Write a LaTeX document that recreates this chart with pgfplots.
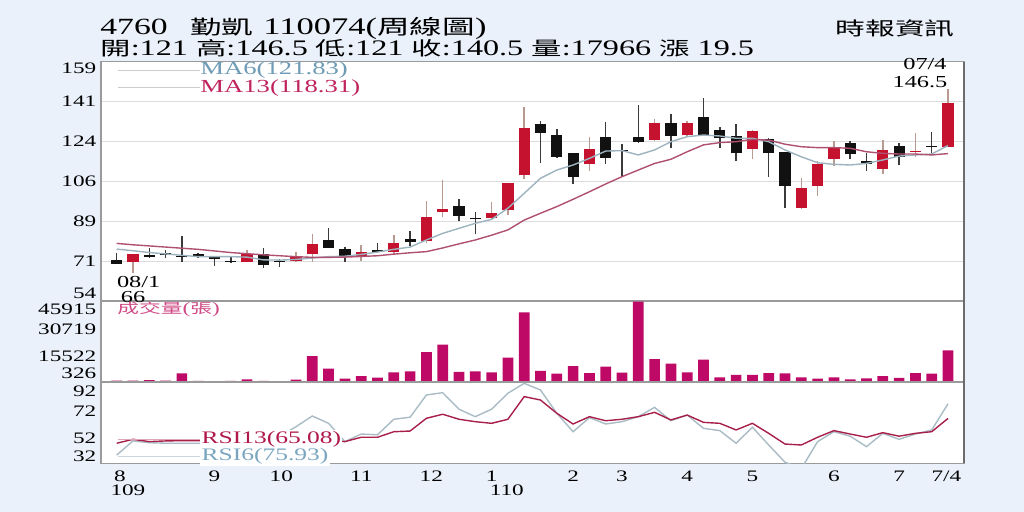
\documentclass[border=0pt]{standalone}
\usepackage{fontspec}
\setmainfont{Liberation Serif}[FakeStretch=1.45]
\newfontfamily\cjk{Noto Sans CJK TC}[FakeStretch=1.6]
\usepackage{pgfplots}
\usepackage{pgfplotstable}
\pgfplotsset{compat=1.18}
\definecolor{bg}{HTML}{EAF1FA}
\definecolor{candr}{HTML}{C4122F}
\definecolor{candk}{HTML}{111111}
\definecolor{wickr}{HTML}{B89A90}
\definecolor{wickk}{HTML}{3A3A3A}
\definecolor{volc}{HTML}{BE0A66}
\definecolor{masix}{HTML}{9DB4C0}
\definecolor{mathr}{HTML}{B05070}
\definecolor{masixt}{HTML}{6E9BB5}
\definecolor{mathrt}{HTML}{C0245E}
\definecolor{rthr}{HTML}{A8204A}
\definecolor{rsix}{HTML}{A9BCC6}
\definecolor{rthrt}{HTML}{B0184C}
\definecolor{rsixt}{HTML}{7AA6C0}
\definecolor{volt}{HTML}{D04A86}
\definecolor{gridc}{HTML}{DCDCDC}
\definecolor{axc}{HTML}{9A9A9A}

\pgfplotstableread{
i O H L C
1 70.7 74.5 66 74.2
8 70.9 76.1 70.7 74.4
11 71.4 75.3 70.7 73.5
12 74.2 83 71 78.9
15 73.6 78.2 71.3 75.1
17 75.4 82.8 73.8 79.3
19 80.1 97.6 79 90.7
20 92.9 106.7 90.4 94.2
23 90 97.2 89.4 92.4
24 93.6 105.5 91.6 105.3
25 108.9 138.8 107 129.4
29 113.6 125.7 110.7 120.3
33 124.2 133.6 124 131.8
35 126.3 132.5 125.5 131.8
39 120.2 128.5 115.8 128.2
42 94.4 107.8 94.2 103.4
43 104.1 115 99.9 113.6
44 115.9 124 113 121.3
47 111.6 124.2 109.4 119.9
49 119.2 127.2 116.7 119.6
51 121 146.5 121 140.5
}\redT

\pgfplotstableread{
i O H L C
0 71.7 75 69.8 70.0
2 73.8 77 72.8 73.2
3 74.7 76 72.5 73.8
4 73.5 82.2 70.7 73.1
5 74.4 74.8 72.7 73.3
6 72.9 73.2 69.3 72.3
7 71.3 73.7 70.5 70.9
9 74.5 76.8 68.3 69.7
10 71.3 72 68.8 70.8
13 80.4 85.6 76.8 77.1
14 76.4 77.5 71 72.9
16 76.1 79 75 75.2
18 80.9 84.6 77.8 79.8
21 95.5 98.4 88.7 91.1
22 89.9 92.6 83.1 89.5
26 131.2 132.7 114 127.2
27 126.4 128.9 116.5 116.9
28 118.4 118.5 105 107.9
30 125.4 132 113.6 116.5
31 120 122.3 108 119.5
32 125.7 139.6 123 123.2
34 131.8 135.5 120.9 126
36 134.4 142.5 126 126.1
37 128.6 129.8 120.9 125
38 126 131.2 115 118.4
40 124.5 125 108.2 118.4
41 118.9 119.2 94.6 104.1
45 122.8 124 115.8 118.1
46 115.2 118.4 110.8 113.6
48 121.8 122.8 113.3 116.7
50 121.7 127.9 118.4 121.3
}\blkT

\pgfplotstableread{
i m6 m13 vol r13 r6
0 76.5 79.0 800 46.8 38.1
1 75.8 78.4 800 49.7 48.5
2 75.0 77.9 1000 48.0 47.2
3 74.4 77.4 800 48.5 46.8
4 73.8 76.9 4900 48.7 46.8
5 73.2 76.4 600 48.7 46.8
6 73.2 75.7 200 48.7 46.8
7 73.2 75.0 600 48.7 46.8
8 73.0 74.5 1500 48.7 46.8
9 71.8 74.0 600 48.5 47.0
10 71.7 73.6 200 47.5 51.8
11 72.0 73.2 1300 48.5 59.0
12 72.6 72.9 14700 49.0 66.9
13 73.2 72.9 7600 49.0 61.5
14 73.4 73.0 1900 48.0 48.0
15 74.2 73.3 3400 51.2 53.6
16 75.2 73.6 2500 51.2 53.0
17 76.4 74.3 5500 55.3 64.5
18 77.4 74.9 6100 55.8 66.0
19 80.5 75.4 17000 65.2 82.4
20 83.4 77.0 21200 68.2 84.1
21 85.6 78.8 5700 64.5 71.9
22 87.8 80.5 6100 62.7 66.4
23 89.5 82.6 5500 61.5 71.9
24 94.4 84.9 13800 64.5 83.7
25 100.9 89.2 39600 81.2 91.0
26 107.5 92.2 6300 78.7 86.1
27 111.1 95.1 4700 68.9 68.9
28 113.3 98.3 9100 61.0 55.3
29 116.2 101.6 5100 66.4 65.7
30 119.4 105.0 8700 63.4 61.0
31 119.6 108.2 5300 64.5 62.7
32 117.7 111.1 45700 66.4 66.4
33 119.9 114.0 13000 69.6 73.3
34 123.5 115.8 10400 64.0 63.4
35 125.7 119.1 5500 67.6 67.6
36 126.4 122.1 12700 62.2 57.8
37 126.0 123.1 2650 61.5 56.1
38 125.0 123.5 4000 56.6 46.8
39 125.0 124.5 4000 61.5 58.6
40 123.5 124.2 5100 54.1 45.5
41 119.9 122.4 4900 46.2 32.8
42 116.9 121.3 2650 45.5 28.0
43 114.3 120.9 1900 51.2 48.0
44 113.6 120.9 2650 56.1 55.3
45 113.3 120.6 1500 53.6 52.0
46 114.0 119.1 2100 51.2 44.3
47 115.5 118.4 3400 54.6 54.1
48 117.2 118.1 2300 52.0 49.7
49 117.7 118.1 5100 54.1 53.6
50 118.1 117.7 4700 55.3 56.6
51 121.8 118.3 17966 65.1 75.9
}\seriesT

\pgfplotsset{
  common/.style={
    scale only axis, width=431.65pt, xmin=-0.963, xmax=52.0,
    anchor=south west,
    axis background/.style={fill=white},
    axis line style={draw=axc, line width=0.6pt},
    major tick length=0pt, minor tick num=0,
    xtick=\empty,
    scaled y ticks=false,
    /pgf/number format/assume math mode=true,
    yticklabel style={font=\fontsize{8}{8}\selectfont, inner sep=0pt, xshift=-2.2pt},
  },
}

\begin{document}
\begin{tikzpicture}
\fill[bg] (0,0) rectangle (512pt,256pt);

% ---------- price panel ----------
\begin{axis}[common, at={(50.5pt,105.5pt)}, height=119.65pt,
  ymin=53.81, ymax=158.5,
  ytick={71,88.5,106,123.5,141}, yticklabels={71,89,106,124,141},
  ymajorgrids, grid style={draw=gridc, line width=0.7pt},
  extra y ticks={57.0,155.8}, extra y tick labels={54,159},
  extra y tick style={grid=none},
]
\addplot[draw=none, forget plot, error bars/.cd, y dir=plus, y explicit, error mark=none,
  error bar style={draw=wickr, line width=0.75pt, solid}]
  table[x=i, y=L, y error plus expr=\thisrow{H}-\thisrow{L}] {\redT};
\addplot[draw=none, forget plot, error bars/.cd, y dir=plus, y explicit, error mark=none,
  error bar style={draw=wickk, line width=0.75pt, solid}]
  table[x=i, y=L, y error plus expr=\thisrow{H}-\thisrow{L}] {\blkT};
\addplot[draw=none, forget plot, error bars/.cd, y dir=plus, y explicit, error mark=none,
  error bar style={draw=candr, line width=5.6pt, solid}]
  table[x=i, y=O, y error plus expr=\thisrow{C}-\thisrow{O}] {\redT};
\addplot[draw=none, forget plot, error bars/.cd, y dir=plus, y explicit, error mark=none,
  error bar style={draw=candk, line width=5.6pt, solid}]
  table[x=i, y=C, y error plus expr=\thisrow{O}-\thisrow{C}] {\blkT};
\addplot[masix, line width=0.7pt] table[x=i, y=m6] {\seriesT};
\addplot[mathr, line width=0.7pt] table[x=i, y=m13] {\seriesT};
\end{axis}

% ---------- volume panel ----------
\begin{axis}[common, at={(50.5pt,65pt)}, height=40.5pt,
  ymin=0, ymax=46100,
  ytick={5122,14798,30164,41547}, yticklabels={326,15522,30719,45915},
]
\addplot[ybar, bar width=5.35pt, bar shift=0pt, fill=volc, draw=none] table[x=i, y=vol] {\seriesT};
\end{axis}

% ---------- RSI panel ----------
\begin{axis}[common, at={(50.5pt,24.35pt)}, height=40.65pt,
  ymin=32, ymax=92,
  ytick={36.9,50.7,70.8,85.4}, yticklabels={32,52,72,92},
  xtick={0.2,6,10.1,15,19.3,23,28,31,35,39,44,48,50.9},
  xticklabels={8,9,10,11,12,1,2,3,4,5,6,7,7/4},
  xticklabel style={font=\fontsize{8}{8}\selectfont, inner sep=0pt, anchor=north, yshift=-3.7pt},
  extra x ticks={0.69,23.93}, extra x tick labels={109,110},
  extra x tick style={xticklabel style={yshift=-6.8pt}},
]
\addplot[rsix, line width=0.7pt] table[x=i, y=r6] {\seriesT};
\addplot[rthr, line width=0.7pt] table[x=i, y=r13] {\seriesT};
\end{axis}

% right border
\draw[draw=gray!85!black, line width=1pt] (482.15pt,24.35pt) -- (482.15pt,225.15pt);

% ---------- texts ----------
\node[anchor=base west, inner sep=0pt] at (50pt,238.5pt) {\fontsize{11.6}{12}\selectfont 4760};
\node[anchor=base west, inner sep=0pt] at (95pt,238.5pt) {\cjk\fontsize{9.8}{12}\selectfont 勤凱};
\node[anchor=base west, inner sep=0pt] at (131.5pt,238.5pt) {\fontsize{11.9}{12}\selectfont 110074({\cjk\fontsize{10.2}{12}\selectfont 周線圖})};
\node[anchor=base west, inner sep=0pt] at (50pt,228.3pt) {\fontsize{11.1}{11}\selectfont {\cjk\fontsize{9.5}{11}\selectfont 開}:121 {\cjk\fontsize{9.5}{11}\selectfont 高}:146.5 {\cjk\fontsize{9.5}{11}\selectfont 低}:121 {\cjk\fontsize{9.5}{11}\selectfont 收}:140.5 {\cjk\fontsize{9.5}{11}\selectfont 量}:17966 {\cjk\fontsize{9.5}{11}\selectfont 漲} 19.5};
\node[anchor=base east, inner sep=0pt] at (477.5pt,238.3pt) {\cjk\fontsize{9.3}{11}\selectfont 時報資訊};

% MA legend
\draw[gray!40, line width=0.5pt] (59pt,220.65pt) -- (100pt,220.65pt);
\draw[gray!40, line width=0.5pt] (59pt,212.35pt) -- (100pt,212.35pt);
\node[anchor=west, inner sep=0pt, text=masixt] at (100pt,220.75pt) {\fontsize{9.2}{10}\selectfont MA6(121.83)};
\node[anchor=west, inner sep=0pt, text=mathrt] at (100pt,212pt) {\fontsize{9.2}{10}\selectfont MA13(118.31)};

% price annotations
\node[inner sep=0pt] at (69.35pt,114.8pt) {\fontsize{8.4}{9}\selectfont 08/1};
\node[inner sep=0pt] at (66.5pt,107.6pt) {\fontsize{8.4}{9}\selectfont 66};
\node[inner sep=0pt] at (462.5pt,223.75pt) {\fontsize{8.4}{9}\selectfont 07/4};
\node[inner sep=0pt] at (460pt,215.15pt) {\fontsize{8.4}{9}\selectfont 146.5};

% volume label
\node[anchor=west, inner sep=0pt, text=volt] at (58.5pt,101.2pt) {\cjk\fontsize{6.8}{8}\selectfont 成交量{\rmfamily\fontsize{8}{8}\selectfont(}張{\rmfamily\fontsize{8}{8}\selectfont)}};

% RSI legend
\draw[rthr!40, line width=0.5pt] (59pt,36.35pt) -- (100pt,36.35pt);
\draw[rsix!60, line width=0.5pt] (59pt,27.65pt) -- (100pt,27.65pt);
\node[anchor=west, inner sep=0.6pt, fill=white, text=rthrt] at (100pt,36.35pt) {\fontsize{8.8}{9}\selectfont RSI13(65.08)};
\node[anchor=west, inner sep=0.6pt, fill=white, text=rsixt] at (100pt,27.65pt) {\fontsize{8.8}{9}\selectfont RSI6(75.93)};

\pgfresetboundingbox
\path[use as bounding box] (0,0) rectangle (512pt,256pt);
\end{tikzpicture}
\end{document}
